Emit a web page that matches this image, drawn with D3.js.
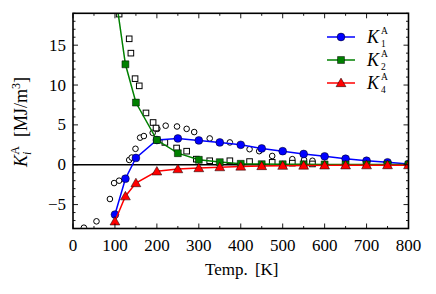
<!DOCTYPE html>
<html><head><meta charset="utf-8">
<script src="https://cdn.jsdelivr.net/npm/d3@7"></script>
<style>body{margin:0;background:#fff}svg{display:block}svg text{font-family:"Liberation Serif","Times New Roman",serif}</style>
</head><body><svg id="c" width="436" height="294"></svg>
<script>
const temps = [100,125,150,200,250,300,350,400,450,500,550,600,650,700,750,800];
const K1 = [-6.25,-1.75,0.85,3.1,3.3,3.05,2.8,2.5,2.05,1.7,1.35,1.05,0.75,0.5,0.3,0.1];
const K2 = [21.8,12.6,7.8,3.1,1.45,0.62,0.33,0.12,0.08,0.06,0.05,0.04,0.03,0.03,0.02,0.02];
const K4 = [-7.1,-3.95,-2.3,-0.83,-0.55,-0.42,-0.3,-0.22,-0.16,-0.12,-0.1,-0.08,-0.07,-0.06,-0.05,-0.05];
const expCircT = [26,56,88,98,110,134,140,149,160,169,190,201,221,248,271,289,326,374,421,444,475,523,551,571];
const expCircK = [-7.9,-7.1,-4.3,-2.3,-2.0,0.6,0.9,2.0,3.4,3.6,4.0,4.5,4.9,4.8,4.5,4.1,3.3,2.8,1.95,1.7,1.1,0.7,0.6,0.5];
const expSqT = [110,134,138,148,158,174,191,198,219,247,271,294,326,374,421,475,523,571];
const expSqK = [18.9,15.8,14.0,10.8,9.9,6.5,5.3,4.6,2.8,2.1,1.7,0.7,0.5,0.5,0.4,0.3,0.2,0.1];
const xTicks = [0,100,200,300,400,500,600,700,800];
const yTicks = [-5,0,5,10,15];
const seriesNames = ["1","2","4"];
const seriesColors = ["#0000ff","#008000","#ff0000"];

const svg = d3.select("#c");
const L=73, R=408.5, T=13.3, B=228.5;
const x = d3.scaleLinear().domain([0,800]).range([L,R]);
const y = d3.scaleLinear().domain([-8,19]).range([B,T]);

svg.append("defs").append("clipPath").attr("id","clip")
  .append("rect").attr("x",L).attr("y",T).attr("width",R-L).attr("height",B-T);

const plot = svg.append("g").attr("clip-path","url(#clip)");
plot.append("line").attr("x1",L).attr("x2",R).attr("y1",y(0)).attr("y2",y(0))
  .attr("stroke","#000").attr("stroke-width",1.5);

plot.selectAll(".oc").data(expCircT.map((t,i)=>[t,expCircK[i]])).join("circle")
  .attr("cx",d=>x(d[0])).attr("cy",d=>y(d[1])).attr("r",2.8)
  .attr("fill","#fff").attr("stroke","#000").attr("stroke-width",1);
plot.selectAll(".os").data(expSqT.map((t,i)=>[t,expSqK[i]])).join("rect")
  .attr("x",d=>x(d[0])-2.8).attr("y",d=>y(d[1])-2.8).attr("width",5.6).attr("height",5.6)
  .attr("fill","#fff").attr("stroke","#000").attr("stroke-width",1);

const series = [K1,K2,K4];
const line = d3.line().x((d,i)=>x(temps[i])).y(d=>y(d));
const sym = [d3.symbolCircle,d3.symbolSquare,d3.symbolTriangle];
const symSize = [48,48,42];
series.forEach((vals,k)=>{
  plot.append("path").attr("d",line(vals)).attr("fill","none")
    .attr("stroke",seriesColors[k]).attr("stroke-width",1.5);
  plot.selectAll(".m"+k).data(vals).join("path")
    .attr("transform",(d,i)=>`translate(${x(temps[i])},${y(d)+(k===2?0.8:0)})`)
    .attr("d",d3.symbol(sym[k],symSize[k]))
    .attr("fill",seriesColors[k]).attr("stroke","#000").attr("stroke-width",0.5);
});

svg.append("rect").attr("x",L).attr("y",T).attr("width",R-L).attr("height",B-T)
  .attr("fill","none").attr("stroke","#000").attr("stroke-width",1.6);

const ax = svg.append("g").attr("stroke","#000").attr("stroke-width",0.9);
for(let t=0;t<=800;t+=50){
  const len = t%100===0?5:2.5;
  ax.append("line").attr("x1",x(t)).attr("x2",x(t)).attr("y1",B).attr("y2",B-len);
  ax.append("line").attr("x1",x(t)).attr("x2",x(t)).attr("y1",T).attr("y2",T+len);
}
for(let v=-8;v<=19;v+=1){
  const len = v%5===0?5:2.5;
  ax.append("line").attr("x1",L).attr("x2",L+len).attr("y1",y(v)).attr("y2",y(v));
  ax.append("line").attr("x1",R).attr("x2",R-len).attr("y1",y(v)).attr("y2",y(v));
}
const fs = 17;
svg.selectAll(".xt").data(xTicks).join("text")
  .attr("x",d=>x(d)).attr("y",B+22.5).attr("text-anchor","middle").attr("font-size",fs).text(d=>d);
svg.selectAll(".yt").data(yTicks).join("text")
  .attr("x",L-7).attr("y",d=>y(d)+5.5).attr("text-anchor","end").attr("font-size",fs)
  .text(d=>d<0?"\u2212"+Math.abs(d):d);

svg.append("text").attr("x",(L+R)/2+1).attr("y",B+46).attr("text-anchor","middle")
  .attr("font-size",fs).attr("word-spacing",3).text("Temp. [K]");

const yl = svg.append("text").attr("transform","translate(27,122) rotate(-90)")
  .attr("text-anchor","middle").attr("font-size",18);
yl.append("tspan").attr("font-style","italic").text("K");
yl.append("tspan").attr("font-style","italic").attr("font-size",12).attr("dy",4).text("i");
yl.append("tspan").attr("font-size",12).attr("dx",-3).attr("dy",-12).text("A");
yl.append("tspan").attr("dy",8).text("\u2002[MJ/m");
yl.append("tspan").attr("font-size",12).attr("dy",-7).text("3");
yl.append("tspan").attr("dy",7).text("]");

const lg = svg.append("g");
const rowY = [37,60,83];
seriesNames.forEach((n,k)=>{
  const yy = rowY[k];
  lg.append("line").attr("x1",327).attr("x2",355).attr("y1",yy).attr("y2",yy)
    .attr("stroke",seriesColors[k]).attr("stroke-width",1.5);
  lg.append("path").attr("transform",`translate(341,${yy+(k===2?0.8:0)})`)
    .attr("d",d3.symbol(sym[k],symSize[k]))
    .attr("fill",seriesColors[k]).attr("stroke","#000").attr("stroke-width",0.5);
  lg.append("text").attr("x",367).attr("y",yy+6).attr("font-size",18)
    .attr("font-style","italic").text("K");
  lg.append("text").attr("x",381).attr("y",yy+10).attr("font-size",9.5).text(n);
  lg.append("text").attr("x",381).attr("y",yy-3.5).attr("font-size",9.5).text("A");
});
</script></body></html>
